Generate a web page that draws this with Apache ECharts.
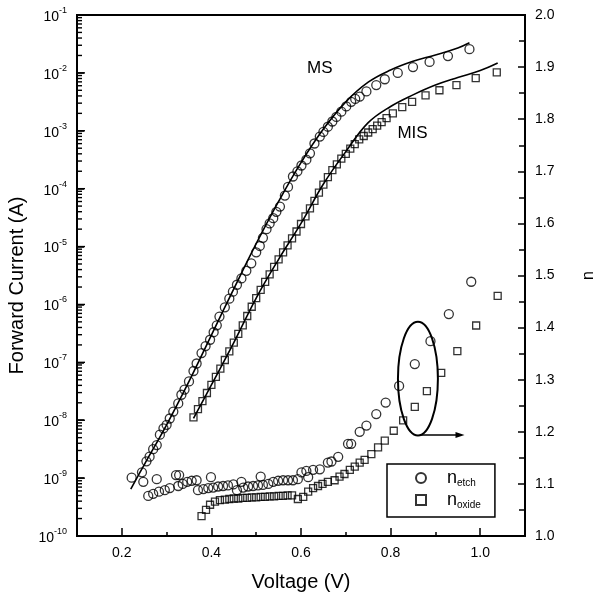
<!DOCTYPE html>
<html><head><meta charset="utf-8">
<script src="https://cdn.jsdelivr.net/npm/echarts@6/dist/echarts.min.js"></script>
<style>html,body{margin:0;padding:0;background:#fff;overflow:hidden}#c{width:599px;height:597px}</style>
</head><body><div id="c"></div>
<script>
// ---- data ----
// MS (etched) forward I-V: voltage (V) and log10 of current (A)
const msV = [0.245,0.255,0.262,0.270,0.278,0.285,0.293,0.300,0.307,0.315,0.326,0.333,0.340,0.350,0.360,0.367,0.378,0.387,0.397,0.405,0.412,0.418,0.430,0.440,0.448,0.457,0.467,0.478,0.489,0.500,0.508,0.515,0.523,0.530,0.538,0.545,0.553,0.564,0.571,0.582,0.592,0.601,0.612,0.620,0.630,0.642,0.650,0.660,0.670,0.679,0.690,0.701,0.712,0.721,0.731,0.746,0.768,0.787,0.816,0.850,0.887,0.928,0.976];
const msLogI = [-8.90,-8.71,-8.63,-8.50,-8.43,-8.25,-8.14,-8.08,-7.97,-7.85,-7.71,-7.56,-7.47,-7.33,-7.15,-7.02,-6.84,-6.72,-6.61,-6.48,-6.36,-6.21,-6.05,-5.90,-5.78,-5.66,-5.55,-5.42,-5.29,-5.10,-4.99,-4.85,-4.70,-4.60,-4.51,-4.40,-4.31,-4.12,-3.97,-3.79,-3.70,-3.60,-3.50,-3.39,-3.22,-3.10,-3.02,-2.93,-2.84,-2.76,-2.67,-2.58,-2.50,-2.45,-2.41,-2.32,-2.21,-2.11,-2.00,-1.90,-1.81,-1.71,-1.59];
const msFitV = [0.22,0.25,0.30,0.35,0.40,0.45,0.50,0.55,0.60,0.65,0.70,0.75,0.80,0.85,0.90,0.95,0.976];
const msFitLogI = [-9.19,-8.77,-8.08,-7.33,-6.53,-5.73,-4.95,-4.22,-3.55,-2.97,-2.50,-2.16,-1.95,-1.80,-1.69,-1.57,-1.48];
// MIS (oxide) forward I-V
const misV = [0.36,0.37,0.38,0.39,0.40,0.41,0.42,0.43,0.44,0.45,0.46,0.47,0.48,0.49,0.50,0.51,0.52,0.53,0.54,0.55,0.56,0.57,0.58,0.59,0.60,0.61,0.62,0.63,0.64,0.65,0.66,0.67,0.68,0.69,0.70,0.71,0.72,0.73,0.74,0.75,0.76,0.77,0.78,0.791,0.805,0.826,0.848,0.878,0.909,0.947,0.990,1.037];
const misLogI = [-7.95,-7.81,-7.67,-7.53,-7.39,-7.25,-7.11,-6.96,-6.81,-6.66,-6.51,-6.36,-6.20,-6.04,-5.89,-5.75,-5.61,-5.48,-5.35,-5.22,-5.10,-4.98,-4.86,-4.74,-4.61,-4.48,-4.34,-4.21,-4.07,-3.93,-3.80,-3.68,-3.58,-3.48,-3.40,-3.31,-3.23,-3.15,-3.09,-3.03,-2.97,-2.91,-2.85,-2.78,-2.70,-2.59,-2.50,-2.39,-2.30,-2.21,-2.09,-1.99];
const misFitV = [0.36,0.40,0.45,0.50,0.55,0.60,0.65,0.70,0.75,0.80,0.85,0.90,0.95,1.00,1.039];
const misFitLogI = [-7.97,-7.39,-6.66,-5.89,-5.22,-4.60,-3.92,-3.36,-2.86,-2.58,-2.38,-2.21,-2.08,-1.96,-1.83];
// ideality factor n (right axis)
const etchV = [0.222,0.248,0.278,0.259,0.270,0.283,0.296,0.307,0.321,0.328,0.326,0.336,0.346,0.356,0.367,0.370,0.382,0.393,0.399,0.404,0.415,0.426,0.437,0.449,0.457,0.467,0.471,0.482,0.493,0.504,0.510,0.515,0.527,0.538,0.549,0.560,0.571,0.582,0.593,0.601,0.612,0.616,0.627,0.642,0.660,0.668,0.683,0.705,0.712,0.731,0.746,0.768,0.789,0.819,0.854,0.889,0.930,0.980];
const etchN = [1.112,1.104,1.109,1.077,1.081,1.085,1.088,1.092,1.117,1.117,1.096,1.100,1.104,1.106,1.107,1.088,1.090,1.092,1.113,1.093,1.095,1.096,1.097,1.099,1.088,1.104,1.093,1.095,1.096,1.097,1.114,1.098,1.100,1.104,1.106,1.107,1.107,1.107,1.109,1.122,1.125,1.113,1.127,1.128,1.141,1.143,1.152,1.177,1.177,1.200,1.212,1.234,1.256,1.288,1.330,1.374,1.426,1.488];
const oxV = [0.378,0.388,0.397,0.408,0.419,0.43,0.44,0.45,0.46,0.47,0.48,0.49,0.50,0.51,0.52,0.53,0.54,0.55,0.56,0.57,0.58,0.593,0.605,0.616,0.627,0.638,0.648,0.660,0.675,0.686,0.697,0.709,0.720,0.731,0.742,0.757,0.772,0.787,0.807,0.828,0.854,0.881,0.913,0.949,0.991,1.039];
const oxN = [1.038,1.050,1.060,1.066,1.069,1.070,1.071,1.072,1.072,1.073,1.073,1.074,1.074,1.075,1.075,1.076,1.076,1.077,1.077,1.078,1.078,1.071,1.075,1.085,1.092,1.096,1.100,1.104,1.107,1.114,1.119,1.127,1.133,1.141,1.146,1.157,1.170,1.183,1.202,1.222,1.248,1.278,1.313,1.355,1.404,1.461];
// axes
const xTickMajor = [0.2,0.4,0.6,0.8,1.0];
const xTickMinor = [0.3,0.5,0.7,0.9];
const decades = [-10,-9,-8,-7,-6,-5,-4,-3,-2];
const minorMult = [2,3,4,5,6,7,8,9];
// annotations (data coordinates)
const msLabel = {text:'MS', v:0.642, logI:-1.92};
const misLabel = {text:'MIS', v:0.849, logI:-3.04};
const ellipseC = {v:0.861, n:1.302, dv:0.0446, dn:0.109};
const arrowSeg = {v0:0.865, v1:0.965, n:1.194};

const FONT = '"Liberation Sans", Arial, sans-serif';
const pairs = (xs, ys, f) => xs.map((x, i) => [x, f ? f(ys[i]) : ys[i]]);
const p10 = v => Math.pow(10, v);

const chart = echarts.init(document.getElementById('c'), null, {renderer: 'canvas'});
const axisLine = {show: true, lineStyle: {color: '#000', width: 2}};
const symStyle = {color: 'rgba(0,0,0,0)', borderColor: '#000', borderWidth: 1.3};

chart.setOption({
  animation: false,
  backgroundColor: '#fff',
  textStyle: {fontFamily: FONT, color: '#000'},
  grid: {left: 77, right: 74, top: 15, bottom: 61, outerBoundsMode: 'none', containLabel: false,
         show: true, borderColor: '#000', borderWidth: 2, backgroundColor: 'transparent'},
  xAxis: [{
    type: 'value', min: 0.1, max: 1.1, interval: 0.1, position: 'bottom',
    name: 'Voltage (V)', nameLocation: 'middle', nameGap: 36,
    nameTextStyle: {fontSize: 20, color: '#000', fontFamily: FONT},
    axisLine: axisLine,
    axisTick: {show: true, inside: true, length: 8, lineStyle: {color: '#000', width: 1.5}, customValues: xTickMajor},
    axisLabel: {show: true, customValues: xTickMajor, margin: 10, fontSize: 14, color: '#000', fontFamily: FONT, formatter: v => v.toFixed(1)},
    splitLine: {show: false}
  }, {
    type: 'value', min: 0.1, max: 1.1, interval: 0.1, position: 'bottom', gridIndex: 0,
    axisLine: {show: false},
    axisTick: {show: true, inside: true, length: 4, lineStyle: {color: '#000', width: 1.5}, customValues: xTickMinor},
    axisLabel: {show: false}, splitLine: {show: false}
  }],
  yAxis: [{
    type: 'log', logBase: 10, min: 1e-10, max: 1e-1, splitNumber: 9, position: 'left',
    name: 'Forward Current (A)', nameLocation: 'middle', nameGap: 38, nameRotate: 90,
    nameTextStyle: {fontSize: 20, color: '#000', fontFamily: FONT, padding: [0, 20, 0, 0]},
    axisLine: axisLine,
    axisTick: {show: true, inside: true, length: 7, lineStyle: {color: '#000', width: 1.5}},
    axisLabel: {
      margin: 10, color: '#000', fontFamily: FONT,
      formatter: v => '{b|10}{s|' + Math.round(Math.log10(v)) + '}',
      rich: {b: {fontSize: 14, fontFamily: FONT, color: '#000', lineHeight: 18, verticalAlign: 'bottom'},
             s: {fontSize: 9, fontFamily: FONT, color: '#000', lineHeight: 18, verticalAlign: 'top'}}
    },
    splitLine: {show: false}
  }, {
    type: 'value', min: 1.0, max: 2.0, interval: 0.1, position: 'right',
    name: 'n', nameLocation: 'middle', nameGap: 56, nameRotate: 90,
    nameTextStyle: {fontSize: 16, color: '#000', fontFamily: FONT},
    axisLine: axisLine,
    axisTick: {show: true, inside: true, length: 7, lineStyle: {color: '#000', width: 1.5}},
    minorTick: {show: true, splitNumber: 2, length: 6, lineStyle: {color: '#000', width: 1.5}},
    axisLabel: {margin: 10, fontSize: 14, color: '#000', fontFamily: FONT, formatter: v => v.toFixed(1)},
    splitLine: {show: false}, minorSplitLine: {show: false}
  }],
  legend: {
    data: ['n_etch', 'n_oxide'], orient: 'vertical', left: 387, top: 464,
    borderColor: '#000', borderWidth: 1.5, borderRadius: 0, padding: [4, 14, 7, 28],
    itemGap: 2, itemWidth: 10, itemHeight: 10,
    formatter: name => name === 'n_etch' ? '{n|n}{s|etch}' : '{n|n}{s|oxide}',
    textStyle: {color: '#000', fontFamily: FONT, padding: [0, 0, 0, 16],
      rich: {n: {fontSize: 18, fontFamily: FONT, color: '#000', lineHeight: 22},
             s: {fontSize: 10, fontFamily: FONT, color: '#000', lineHeight: 22, padding: [10, 0, 0, 0]}}}
  },
  series: [
    {name: 'MS fit', type: 'line', xAxisIndex: 0, yAxisIndex: 0, data: pairs(msFitV, msFitLogI, p10), smooth: 0.4, showSymbol: false, symbol: 'none', lineStyle: {color: '#000', width: 1.6}, z: 2},
    {name: 'MIS fit', type: 'line', xAxisIndex: 0, yAxisIndex: 0, data: pairs(misFitV, misFitLogI, p10), smooth: 0.4, showSymbol: false, symbol: 'none', lineStyle: {color: '#000', width: 1.6}, z: 2},
    {name: 'MS', type: 'scatter', xAxisIndex: 0, yAxisIndex: 0, data: pairs(msV, msLogI, p10), symbol: 'circle', symbolSize: 9, itemStyle: symStyle, z: 3},
    {name: 'MIS', type: 'scatter', xAxisIndex: 0, yAxisIndex: 0, data: pairs(misV, misLogI, p10), symbol: 'rect', symbolSize: 7, itemStyle: symStyle, z: 3},
    {name: 'n_etch', type: 'scatter', xAxisIndex: 0, yAxisIndex: 1, data: pairs(etchV, etchN), symbol: 'circle', symbolSize: 9, itemStyle: symStyle, z: 3},
    {name: 'n_oxide', type: 'scatter', xAxisIndex: 0, yAxisIndex: 1, data: pairs(oxV, oxN), symbol: 'rect', symbolSize: 7, itemStyle: symStyle, z: 3}
  ]
});

// annotations and left-axis minor ticks placed through the chart's own coordinate conversion
const toPxI = (v, logI) => chart.convertToPixel({seriesIndex: 2}, [v, p10(logI)]);
const toPxN = (v, n) => chart.convertToPixel({seriesIndex: 4}, [v, n]);
const pMS = toPxI(msLabel.v, msLabel.logI);
const pMIS = toPxI(misLabel.v, misLabel.logI);
const c = toPxN(ellipseC.v, ellipseC.n);
const cx1 = toPxN(ellipseC.v + ellipseC.dv, ellipseC.n + ellipseC.dn);
const a0 = toPxN(arrowSeg.v0, arrowSeg.n);
const a1 = toPxN(arrowSeg.v1, arrowSeg.n);
const tickEls = [];
const addTick = (val, len) => {
  const p = chart.convertToPixel({seriesIndex: 2}, [0.1, val]);
  tickEls.push({type: 'line', z: 100, silent: true, shape: {x1: p[0], y1: p[1], x2: p[0] + len, y2: p[1]}, style: {stroke: '#000', lineWidth: 1.4}});
};
decades.forEach(d => {
  addTick(p10(d), 8);
  minorMult.forEach(k => addTick(k * p10(d), 5));
});
chart.setOption({
  graphic: tickEls.concat([
    {type: 'text', x: pMS[0], y: pMS[1], style: {text: msLabel.text, fontSize: 17, fontFamily: FONT, fill: '#000', align: 'center', verticalAlign: 'middle'}},
    {type: 'text', x: pMIS[0], y: pMIS[1], style: {text: misLabel.text, fontSize: 17, fontFamily: FONT, fill: '#000', align: 'center', verticalAlign: 'middle'}},
    {type: 'ellipse', shape: {cx: c[0], cy: c[1], rx: Math.abs(cx1[0] - c[0]), ry: Math.abs(cx1[1] - c[1])}, style: {fill: 'none', stroke: '#000', lineWidth: 2}},
    {type: 'line', shape: {x1: a0[0], y1: a0[1], x2: a1[0] - 6, y2: a1[1]}, style: {stroke: '#000', lineWidth: 1.5}},
    {type: 'polygon', shape: {points: [[a1[0], a1[1]], [a1[0] - 9, a1[1] - 3], [a1[0] - 9, a1[1] + 3]]}, style: {fill: '#000'}}
  ])
});
</script>
</body></html>
